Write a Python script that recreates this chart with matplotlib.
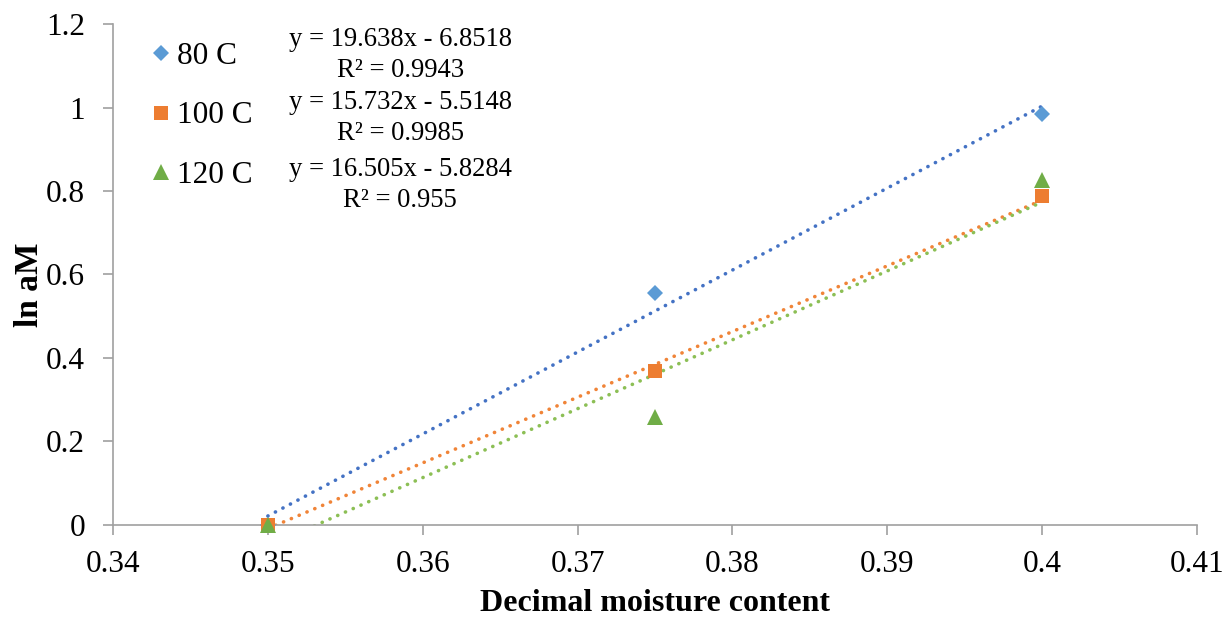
import numpy as np
import matplotlib
matplotlib.use("Agg")
import matplotlib.pyplot as plt

plt.rcParams["font.family"] = ["Liberation Serif", "DejaVu Serif"]

# Measured data
moisture = [0.35, 0.375, 0.4]
series_names = ["80 C", "100 C", "120 C"]
ln_am_80 = [0.0, 0.556, 0.984]
ln_am_100 = [0.0, 0.369, 0.788]
ln_am_120 = [0.0, 0.259, 0.826]

# Linear trendline coefficients (slope, intercept) and R²
slopes = [19.638, 15.732, 16.505]
intercepts = [-6.8518, -5.5148, -5.8284]
r_squared = [0.9943, 0.9985, 0.955]

x_ticks = [0.34, 0.35, 0.36, 0.37, 0.38, 0.39, 0.40, 0.41]
x_tick_labels = ["0.34", "0.35", "0.36", "0.37", "0.38", "0.39", "0.4", "0.41"]
y_ticks = [0, 0.2, 0.4, 0.6, 0.8, 1.0, 1.2]
y_tick_labels = ["0", "0.2", "0.4", "0.6", "0.8", "1", "1.2"]

marker_colors = ["#5B9BD5", "#ED7D31", "#70AD47"]
line_colors = ["#4472C4", "#F08438", "#8CBF55"]
markers = ["D", "s", "^"]
marker_sizes = [7.8, 10.5, 11]

fig = plt.figure(figsize=(12.31, 6.19), dpi=100)
ax = fig.add_axes([0.0918, 0.1519, 0.8806, 0.8093])

series = [ln_am_80, ln_am_100, ln_am_120]
handles = []
xs = np.linspace(moisture[0], moisture[-1], 200)
for i, ys in enumerate(series):
    ax.plot(xs, slopes[i] * xs + intercepts[i], linestyle=(0, (0.05, 2.3)),
            linewidth=2.6, color=line_colors[i], dash_capstyle="round", zorder=2)
for i, ys in enumerate(series):
    h, = ax.plot(moisture, ys, linestyle="none", marker=markers[i],
                 markersize=marker_sizes[i], color=marker_colors[i],
                 markeredgewidth=0, label=series_names[i], zorder=3, clip_on=False)
    handles.append(h)

ax.set_xlim(0.34, 0.41)
ax.set_ylim(0, 1.2)
ax.set_xticks(x_ticks)
ax.set_xticklabels(x_tick_labels)
ax.set_yticks(y_ticks)
ax.set_yticklabels(y_tick_labels)

for side in ["top", "right"]:
    ax.spines[side].set_visible(False)
for side in ["left", "bottom"]:
    ax.spines[side].set_color("#A0A0A0")
    ax.spines[side].set_linewidth(1.2)
ax.tick_params(axis="both", direction="out", length=7, width=1.2, color="#A0A0A0",
               labelsize=22.5)
ax.tick_params(axis="x", pad=11)
ax.tick_params(axis="y", pad=13)

ax.set_xlabel("Decimal moisture content", fontsize=23, fontweight="bold", labelpad=7)
ax.set_ylabel("ln aM", fontsize=24, fontweight="bold")
ax.yaxis.set_label_coords(-0.063, 0.479)

ax.legend(handles=handles, loc="upper left", bbox_to_anchor=(0.024, 0.99),
          frameon=False, fontsize=22.5, handlelength=0.6, handletextpad=0.22,
          labelspacing=0.99, borderpad=0.4, borderaxespad=0, markerscale=1.0)

eq_y = [0.938, 0.812, 0.678]
for i in range(3):
    eq = f"y = {slopes[i]:.3f}x - {abs(intercepts[i]):.4f}"
    ax.text(0.265, eq_y[i], eq + "\n" + f"R² = {r_squared[i]:g}",
            transform=ax.transAxes, ha="center", va="center", fontsize=19.2,
            multialignment="center", linespacing=1.3)

fig.savefig("out.png", dpi=100)
